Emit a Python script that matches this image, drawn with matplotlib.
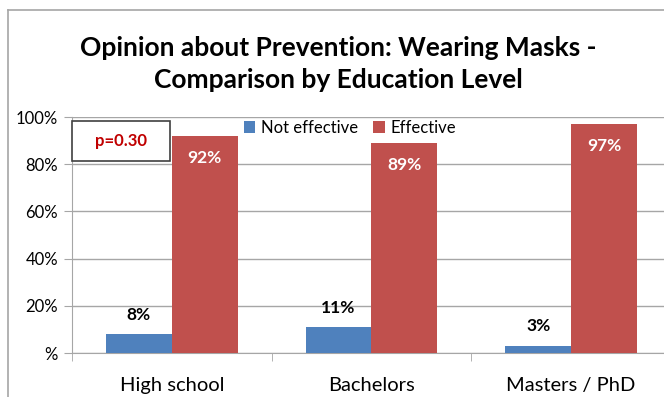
import matplotlib
matplotlib.use("Agg")
import matplotlib.pyplot as plt
from matplotlib.lines import Line2D
from matplotlib.patches import Rectangle
import numpy as np

plt.rcParams['font.family'] = ['Lato', 'DejaVu Sans']

categories = ["High school", "Bachelors", "Masters / PhD"]
not_effective = [8, 11, 3]
effective = [92, 89, 97]
series_names = ["Not effective", "Effective"]
yticks = [0, 20, 40, 60, 80, 100]
ytick_labels = ["%", "20%", "40%", "60%", "80%", "100%"]
title = "Opinion about Prevention: Wearing Masks -\nComparison by Education Level"
pval = "p=0.30"

W, H = 664, 397
fig = plt.figure(figsize=(W / 100, H / 100), dpi=100)
ax_l, ax_r, ax_t, ax_b = 72, 671, 117, 353
ax = fig.add_axes([ax_l / W, 1 - ax_b / H, (ax_r - ax_l) / W, (ax_b - ax_t) / H])

blue = "#4F81BD"
red = "#C0504D"
x = np.arange(len(categories))
bw = 0.33
ax.bar(x - bw / 2, not_effective, bw, color=blue, label=series_names[0], zorder=3)
ax.bar(x + bw / 2, effective, bw, color=red, label=series_names[1], zorder=3)

for i, v in enumerate(not_effective):
    ax.annotate(f"{v}%", (x[i] - bw / 2, v), xytext=(0, 14), textcoords="offset points",
                ha="center", va="center", fontsize=12.5, fontweight="bold", color="black")
for i, v in enumerate(effective):
    ax.annotate(f"{v}%", (x[i] + bw / 2, v), xytext=(0, -16), textcoords="offset points",
                ha="center", va="center", fontsize=12.5, fontweight="bold", color="white")

ax.set_xlim(-0.5, len(categories) - 0.5)
ax.set_ylim(0, 100)
ax.set_yticks(yticks)
ax.set_yticklabels(ytick_labels, fontsize=12)
ax.yaxis.grid(True, color="#A6A6A6", linewidth=1, zorder=0)
ax.set_axisbelow(True)

ax.set_xticks(x)
ax.set_xticklabels(categories, fontsize=14.5)
ax.tick_params(axis="x", length=0, pad=17)
ax.set_xticks(np.arange(len(categories) + 1) - 0.5, minor=True)
ax.tick_params(axis="x", which="minor", length=6, color="#A6A6A6", direction="out")
ax.tick_params(axis="y", length=6, color="#A6A6A6", direction="out", pad=4)

for s in ["top", "right"]:
    ax.spines[s].set_visible(False)
for s in ["left", "bottom"]:
    ax.spines[s].set_color("#A6A6A6")

leg = ax.legend(loc="upper left", bbox_to_anchor=((237 - ax_l) / (ax_r - ax_l), 1.0 + 4 / (ax_b - ax_t)),
                ncol=2, frameon=False, fontsize=12, handlelength=0.7, handleheight=0.7,
                handletextpad=0.35, columnspacing=0.9, borderaxespad=0)

# p-value box
fig.add_artist(Rectangle((72 / W, 1 - 161 / H), (170 - 72) / W, (161 - 121) / H,
                         transform=fig.transFigure, fill=True, facecolor="white",
                         edgecolor="#404040", linewidth=1.2, zorder=5))
fig.text((72 + 170) / 2 / W, 1 - 141 / H, pval, ha="center", va="center",
         fontsize=12, fontweight="bold", color="#C00000", zorder=6)

fig.text(338 / W, 1 - 64 / H, title, ha="center", va="center", fontsize=19,
         fontweight="bold", linespacing=1.35)

# outer frame lines
fig.add_artist(Line2D([8 / W, 8 / W], [0, 1 - 10 / H], transform=fig.transFigure, color="#A6A6A6", linewidth=1.2))
fig.add_artist(Line2D([8 / W, 1], [1 - 10 / H, 1 - 10 / H], transform=fig.transFigure, color="#A6A6A6", linewidth=1.2))

fig.savefig("out.png", dpi=100)
